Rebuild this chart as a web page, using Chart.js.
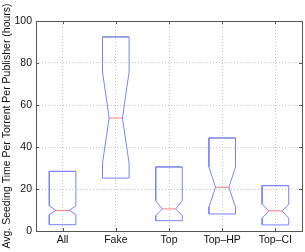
<!DOCTYPE html>
<html>
<head>
<meta charset="utf-8">
<script src="https://cdn.jsdelivr.net/npm/chart.js@4/dist/chart.umd.min.js"></script>
<style>
  html, body { margin: 0; padding: 0; background: #fff; }
  #wrap { width: 305px; height: 252px; }
</style>
</head>
<body>
<div id="wrap"><canvas id="boxChart"></canvas></div>
<script>
const categories = ['All', 'Fake', 'Top', 'Top\u2013HP', 'Top\u2013CI'];
const upperQuartile = [28.4, 92.4, 30.5, 44.3, 21.6];
const lowerQuartile = [3.0, 25.2, 4.9, 8.1, 2.9];
const medians = [9.8, 53.8, 10.5, 20.8, 9.6];
const notchHigh = [12.0, 75.8, 14.4, 30.5, 12.8];
const notchLow = [7.8, 32.3, 7.3, 11.4, 6.1];
const yTicks = [0, 20, 40, 60, 80, 100];

const FONT = { family: '"Liberation Sans", Arial, Helvetica, sans-serif', size: 10.5 };
const halfBox = 0.25, halfNotch = 0.125;

const datasets = [];
categories.forEach((c, i) => {
  const q3 = upperQuartile[i], q1 = lowerQuartile[i], med = medians[i];
  const nh = notchHigh[i], nl = notchLow[i];
  datasets.push({
    data: [
      { x: i - halfBox, y: q3 }, { x: i - halfBox, y: nh }, { x: i - halfNotch, y: med },
      { x: i - halfBox, y: nl }, { x: i - halfBox, y: q1 }, { x: i + halfBox, y: q1 },
      { x: i + halfBox, y: nl }, { x: i + halfNotch, y: med }, { x: i + halfBox, y: nh },
      { x: i + halfBox, y: q3 }, { x: i - halfBox, y: q3 }
    ],
    borderColor: 'rgb(125,130,255)', borderWidth: 1
  });
  datasets.push({
    data: [{ x: i - halfNotch, y: med }, { x: i + halfNotch, y: med }],
    borderColor: 'rgb(255,120,120)', borderWidth: 1
  });
  datasets.push({
    data: [{ x: i - halfBox, y: q3 }, { x: i + halfBox, y: q3 }],
    borderColor: 'rgb(120,125,175)', borderWidth: 1
  });
});

// full axes box with inward tick marks, matlab style
const framePlugin = {
  id: 'frame',
  afterDraw(chart) {
    const { ctx, chartArea: a, scales: { x, y } } = chart;
    ctx.save();
    ctx.strokeStyle = '#555';
    ctx.lineWidth = 1;
    ctx.strokeRect(Math.round(a.left) + 0.5, Math.round(a.top) + 0.5,
      Math.round(a.right - a.left), Math.round(a.bottom - a.top));
    ctx.beginPath();
    yTicks.forEach(v => {
      const py = Math.round(y.getPixelForValue(v)) + 0.5;
      ctx.moveTo(a.left, py); ctx.lineTo(a.left + 3, py);
      ctx.moveTo(a.right, py); ctx.lineTo(a.right - 3, py);
    });
    categories.forEach((c, i) => {
      const px = Math.round(x.getPixelForValue(i)) + 0.5;
      ctx.moveTo(px, a.bottom); ctx.lineTo(px, a.bottom - 3);
      ctx.moveTo(px, a.top); ctx.lineTo(px, a.top + 3);
    });
    ctx.stroke();
    ctx.restore();
  }
};

new Chart(document.getElementById('boxChart'), {
  type: 'scatter',
  data: { datasets },
  options: {
    responsive: true,
    maintainAspectRatio: false,
    animation: false,
    showLine: true,
    elements: { point: { radius: 0 }, line: { tension: 0 } },
    layout: { padding: { left: 0, top: 21, right: 3, bottom: 0 } },
    plugins: { legend: { display: false }, tooltip: { enabled: false } },
    scales: {
      x: {
        type: 'linear', min: -0.5, max: 4.5,
        afterBuildTicks: s => { s.ticks = categories.map((c, i) => ({ value: i })); },
        afterFit: s => { s.height = 21; },
        ticks: { callback: v => categories[v], font: FONT, color: '#111', padding: 3, maxRotation: 0, autoSkip: false },
        grid: { color: '#c4c4c4', drawTicks: false },
        border: { display: false, dash: [1, 2] }
      },
      y: {
        min: 0, max: 100,
        afterBuildTicks: s => { s.ticks = yTicks.map(v => ({ value: v })); },
        afterFit: s => { s.width = 36; },
        ticks: { font: FONT, color: '#111', padding: 4 },
        grid: { color: '#c4c4c4', drawTicks: false },
        border: { display: false, dash: [1, 2] },
        title: {
          display: true,
          text: 'Avg. Seeding Time Per Torrent Per Publisher (hours)',
          font: FONT, color: '#111',
          padding: { top: 1, bottom: 0 }
        }
      }
    }
  },
  plugins: [framePlugin]
});
</script>
</body>
</html>
